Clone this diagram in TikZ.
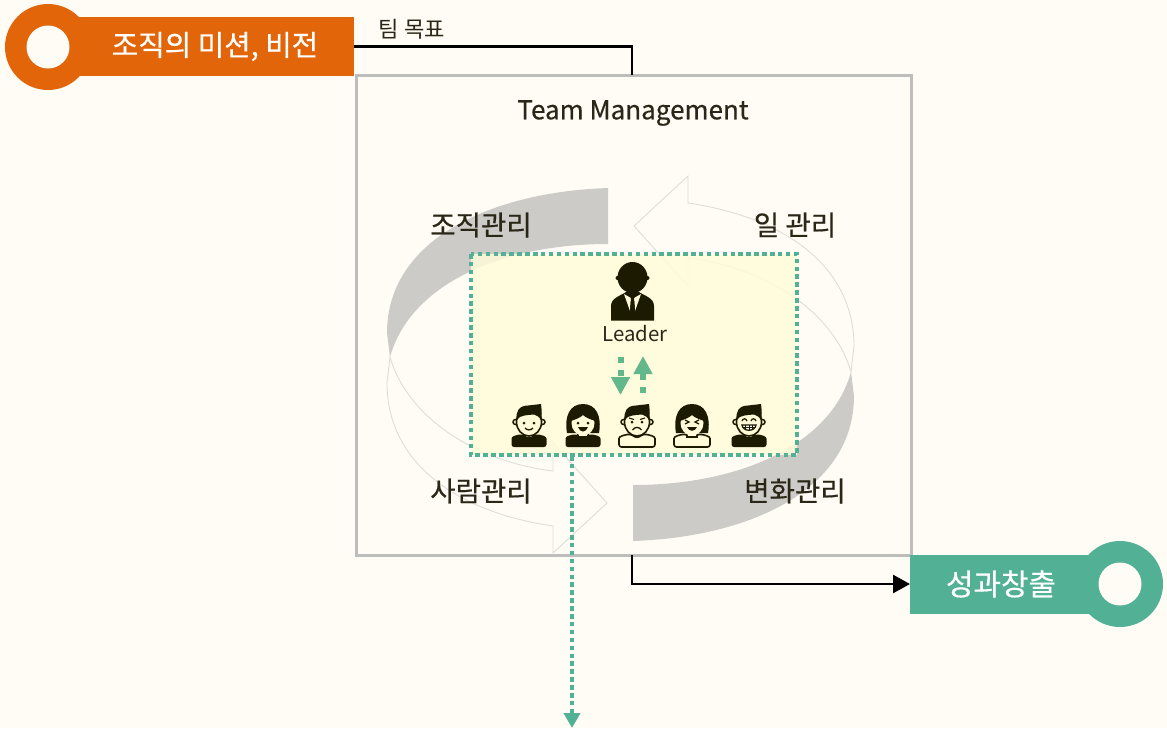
\documentclass[tikz,border=0pt]{standalone}
\usepackage{fontspec}
\setmainfont{Noto Sans CJK KR}
\newfontfamily\medfont[FakeBold=0.5]{Noto Sans CJK KR}
\usetikzlibrary{arrows.meta}
\definecolor{paper}{HTML}{FFFCF5}
\definecolor{missionc}{HTML}{E36509}
\definecolor{resultc}{HTML}{52B094}
\definecolor{boxc}{HTML}{BDBDBB}
\definecolor{bandc}{HTML}{CCCBC7}
\definecolor{arrowc}{HTML}{DEDDDA}
\definecolor{leaderc}{HTML}{FFFBD9}
\definecolor{inkc}{HTML}{1C1A00}
\definecolor{textc}{HTML}{2B2718}
\definecolor{swapc}{HTML}{62B88A}
\def\pxu{.02cm}
\newcommand{\grayband}{(608,188) .. controls (490,192) and (387,240) .. (387,333)
  -- (390,357) .. controls (410,285) and (500,244) .. (608,244) -- cycle}
\newcommand{\openarrow}{(634,226) -- (688,176) -- (688,203) .. controls (790,218) and (854,270) .. (854,346)
  -- (851,372) .. controls (835,315) and (770,268) .. (688,258) -- (688,286) -- cycle}
\tikzset{
  bandbox/.style={rectangle, inner sep=0pt, outer sep=0pt, minimum height=59*\pxu, text=white},
  ringdisc/.style={circle, inner sep=0pt, outer sep=0pt, minimum size=#1*\pxu},
  title/.style={text=textc, inner sep=0pt, font=\medfont\fontsize{14.8}{17}\selectfont},
  mgmt/.style={text=textc, inner sep=0pt, font=\medfont\fontsize{15.7}{18}\selectfont},
  flow/.style={line width=2.6*\pxu, -{Triangle[length=17*\pxu, width=18*\pxu]}},
  dots/.style={dash pattern=on 4.5*\pxu off 3.4*\pxu, line width=4.5*\pxu, draw=resultc},
  bodydark/.pic={\fill[inkc, rounded corners=2.5*\pxu] (-17.5,25) -- (-17.5,19) .. controls (-17.5,14) and (-12,13) .. (-7,12)
    -- (0,16) -- (7,12) .. controls (12,13) and (17.5,14) .. (17.5,19) -- (17.5,25) -- cycle;},
  bodyline/.pic={\draw[inkc, fill=leaderc, line width=1.6*\pxu, rounded corners=2.5*\pxu] (-18,25) -- (-18,19) .. controls (-18,14) and (-12,13) .. (-7,12)
    -- (0,16) -- (7,12) .. controls (12,13) and (18,14) .. (18,19) -- (18,25) -- cycle;},
  hairshort/.pic={
    \draw[inkc, fill=leaderc, line width=1.5*\pxu] (-13.5,0) circle (2.5) (13.5,0) circle (2.5);
    \draw[inkc, fill=leaderc, line width=1.6*\pxu] (0,0) ellipse (12.5 and 14);
    \fill[inkc] (-12,-2) .. controls (-14,-10) and (-10,-16.5) .. (-1,-16.5) -- (12,-18) .. controls (13,-10) and (13,-6) .. (12,-2)
      .. controls (10,-5) and (8,-7) .. (5,-7.5) .. controls (-1,-7) and (-10,-7) .. (-12,-2) -- cycle;},
  hairlong/.pic={
    \fill[inkc] (-16,11) .. controls (-19,-6) and (-13,-18) .. (0,-18) .. controls (13,-18) and (19,-6) .. (16,11) -- cycle;
    \draw[inkc, fill=leaderc, line width=1.5*\pxu] (-5,11) -- (-5,15) -- (5,15) -- (5,11);
    \fill[leaderc] (0,1) ellipse (11.5 and 12.5);
    \fill[inkc] (-12,-1) .. controls (-6,-3) and (-2,-5) .. (0,-7) .. controls (3,-4) and (7,-3) .. (12,-1) -- (9,-13) -- (-9,-13) -- cycle;},
  facesmile/.pic={\fill[inkc] (-5,1) circle (1.5) (5,1) circle (1.5); \draw[inkc, line width=1.3*\pxu] (-4,6) .. controls (-2,8.5) and (2,8.5) .. (4,6);},
  faceopen/.pic={\fill[inkc] (-5,1) circle (1.5) (5,1) circle (1.5); \fill[inkc] (-5,5) .. controls (-3,11) and (3,11) .. (5,5) -- cycle;},
  facefrown/.pic={\fill[inkc] (-5,0) circle (1.5) (5,0) circle (1.5); \draw[inkc, line width=1.3*\pxu] (-4.5,8) .. controls (-2,4.5) and (2,4.5) .. (4.5,8);
    \draw[inkc, line width=1.1*\pxu] (-8,-4) -- (-3,-2.5) (8,-4) -- (3,-2.5);},
  facecross/.pic={\draw[inkc, line width=1.2*\pxu] (-7,-2) -- (-3,0) -- (-7,2) (7,-2) -- (3,0) -- (7,2); \fill[inkc] (-5,5) .. controls (-3,10) and (3,10) .. (5,5) -- cycle;},
  facegrin/.pic={\draw[inkc, line width=1.2*\pxu] (-7,-1) .. controls (-6,-4) and (-3,-4) .. (-2,-1) (7,-1) .. controls (6,-4) and (3,-4) .. (2,-1);
    \draw[inkc, fill=white, line width=1.3*\pxu] (-7,3) -- (7,3) .. controls (6,10) and (-6,10) .. (-7,3) -- cycle;
    \draw[inkc, line width=.8*\pxu] (-3.5,3) -- (-3.5,8) (0,3) -- (0,9) (3.5,3) -- (3.5,8) (-6,5.5) -- (6,5.5);},
}
\begin{document}
\begin{tikzpicture}[x=\pxu, y=-\pxu]
  \fill[paper] (0,0) rectangle (1167,728);
  \useasboundingbox (0,0) rectangle (1167,728);
  % outer box
  \node[draw=boxc, line width=3*\pxu, inner sep=0pt, outer sep=0pt, minimum width=555*\pxu, minimum height=480*\pxu] (team) at (633.5,315) {};
  % the cycle
  \fill[bandc] \grayband;
  \fill[bandc, rotate around={180:(620.5,364.5)}] \grayband;
  \draw[arrowc, line width=.9*\pxu] \openarrow;
  \draw[arrowc, line width=.9*\pxu, rotate around={180:(620.5,364.5)}] \openarrow;
  % leader area
  \node[fill=leaderc, fill opacity=.85, inner sep=0pt, outer sep=0pt, minimum width=326*\pxu, minimum height=201*\pxu] (area) at (634,354.5) {};
  \draw[dots] (area.north west) rectangle (area.south east);
  % end badges
  \node[ringdisc=86, fill=missionc] (missionring) at (48,47) {};
  \node[ringdisc=43, fill=paper] (missionhole) at (48,47) {};
  \node[bandbox, fill=missionc, minimum width=278*\pxu, font=\medfont\fontsize{16.4}{18}\selectfont] (mission) at (215,46.5) {조직의 미션, 비전};
  \node[ringdisc=86, fill=resultc] (resultring) at (1120,584) {};
  \node[ringdisc=43, fill=paper] (resulthole) at (1120,584) {};
  \node[bandbox, fill=resultc, minimum width=182*\pxu, font=\medfont\fontsize{17}{18}\selectfont] (result) at (1001,584) {성과창출};
  % labels
  \node[text=textc, inner sep=0pt, font=\fontsize{12.6}{15}\selectfont] (goal) at (412,29) {팀 목표};
  \node[title] (teamtitle) at (633,113) {Team Management};
  \node[mgmt] (orgm) at (481,225) {조직관리};
  \node[mgmt] (workm) at (795,225) {일 관리};
  \node[mgmt] (peoplem) at (481,491) {사람관리};
  \node[mgmt] (changem) at (795,491) {변화관리};
  \node[text=textc, inner sep=0pt, font=\fontsize{11.6}{14}\selectfont] (leadername) at (635,334) {Leader};
  % connectors
  \draw[line width=2.6*\pxu] (mission.east) -| ([xshift=-1.5*\pxu]team.north);
  \draw[flow] ([xshift=-1.5*\pxu]team.south) |- (result.west);
  \coordinate (outS) at (572,456);
  \coordinate (outE) at (572,728);
  \draw[dots, -{Triangle[length=15*\pxu, width=16*\pxu, fill=resultc]}] (outS) -- (outE);
  \coordinate (downS) at (620.5,357);
  \coordinate (downE) at (620.5,395);
  \coordinate (upS) at (643,393);
  \coordinate (upE) at (643,356);
  \draw[swapc, line width=6*\pxu, dash pattern=on 6*\pxu off 7*\pxu, -{Triangle[length=18*\pxu, width=18*\pxu]}] (downS) -- (downE);
  \draw[swapc, line width=6*\pxu, dash pattern=on 6*\pxu off 7*\pxu, -{Triangle[length=18*\pxu, width=18*\pxu]}] (upS) -- (upE);
  % leader figure
  \fill[inkc] (611,320.5) -- (611,306) .. controls (611,298) and (620,296) .. (626,292) -- (639,292) .. controls (645,296) and (654,298) .. (654,306) -- (654,320.5) -- cycle;
  \fill[leaderc] (624,294) -- (630,311) -- (631,298) -- cycle (641,294) -- (635,311) -- (634,298) -- cycle;
  \fill[inkc] (632.5,277.5) ellipse (15 and 15.5);
  \fill[inkc] (617.5,278) circle (2) (647.5,278) circle (2);
  \fill[inkc] (632.5,296) circle (2.5);
  \fill[inkc] (631,298) -- (634,298) -- (635,312) -- (630,312) -- cycle;
  % members
  \foreach \mx/\mbody/\mhair/\mface in {529/bodydark/hairshort/facesmile, 583/bodydark/hairlong/faceopen,
    637/bodyline/hairshort/facefrown, 692/bodyline/hairlong/facecross, 749/bodydark/hairshort/facegrin} {
    \pic at (\mx,422) {\mbody};
    \pic at (\mx,422) {\mhair};
    \pic at (\mx,422) {\mface};
  }
\end{tikzpicture}
\end{document}
